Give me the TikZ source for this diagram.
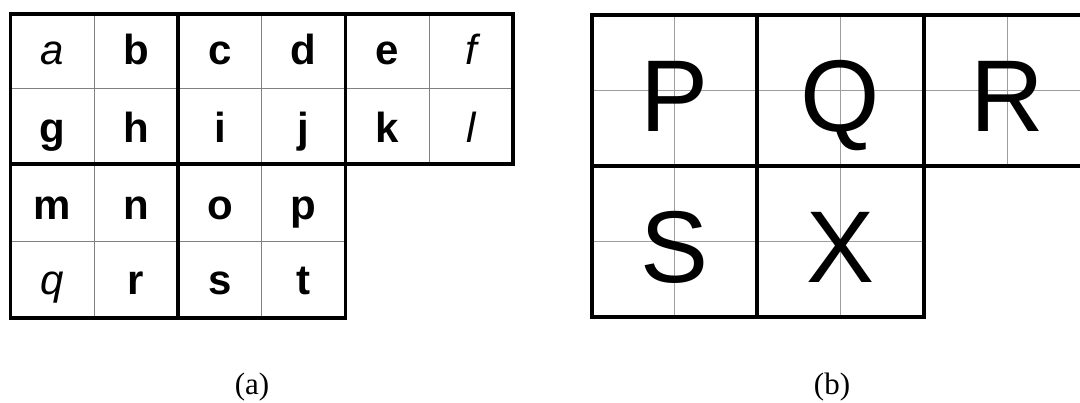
\documentclass[tikz,border=0pt]{standalone}
\usepackage{fontspec}
\setmainfont{Liberation Serif}
\newfontfamily\arialf{Liberation Sans}
\begin{document}
\begin{tikzpicture}[x=1pt,y=-1pt,
  thickl/.style={line width=3.9pt,black,line join=miter},
  thinla/.style={line width=1pt,black!50},
  thinlb/.style={line width=1pt,black!38},
  smallletter/.style={inner sep=0pt,anchor=base,font=\arialf\fontsize{42}{44}\selectfont\bfseries},
  bigletter/.style={inner sep=0pt,anchor=base,font=\arialf\fontsize{102}{104}\selectfont},
  caption/.style={inner sep=0pt,anchor=base,font=\fontsize{31}{33}\selectfont}]
\useasboundingbox (0,0) rectangle (1080,403);
% ---------- grid (a) ----------
\draw[thinla] (94.25,14) -- (94.25,318);
\draw[thinla] (261.75,14) -- (261.75,318);
\draw[thinla] (429.25,14) -- (429.25,164);
\draw[thinla] (10.5,89) -- (513,89);
\draw[thinla] (10.5,242) -- (345.5,242);
\draw[thickl] (10.5,14) -- (513,14) -- (513,164) -- (345.5,164) -- (345.5,318) -- (10.5,318) -- cycle;
\draw[thickl] (178,14) -- (178,318);
\draw[thickl] (345.5,14) -- (345.5,164);
\draw[thickl] (10.5,164) -- (345.5,164);
\foreach \n/\x/\y/\t in {
  la/52.25/65/{\mdseries\itshape a}, lb/136.1/65/b, lc/220/65/c, ld/303.6/65/d, le/387.4/65/e, lf/471.1/65/{\mdseries\itshape f},
  lg/52.25/143/g, lh/136.1/143/h, li/220/143/i, lj/303.6/143/j, lk/387.4/143/k, ll/471.1/143/{\mdseries\itshape l},
  lm/52.25/220/m, ln/136.1/220/n, lo/220/220/o, lp/303.6/220/p,
  lq/52.25/295/{\mdseries\itshape q}, lr/136.1/295/r, ls/220/295/s, lt/303.6/295/t}
  \node[smallletter] (\n) at (\x,\y) {\t};
% ---------- grid (b) ----------
\draw[thinlb] (674.5,15) -- (674.5,317);
\draw[thinlb] (840.5,15) -- (840.5,317);
\draw[thinlb] (1007,15) -- (1007,166);
\draw[thinlb] (592,90.5) -- (1080,90.5);
\draw[thinlb] (592,242) -- (924,242);
\draw[thickl] (1080,15) -| (592,317) -| (924,166) -- (1080,166);
\draw[thickl] (757,15) -- (757,317);
\draw[thickl] (924,15) -- (924,166);
\draw[thickl] (592,166) -- (924,166);
\node[bigletter] (bP) at (674.5,131.5) {P};
\node[bigletter] (bQ) at (840.5,131.5) {Q};
\node[bigletter] (bR) at (1007,131.5) {R};
\node[bigletter] (bS) at (674.5,282.5) {S};
\node[bigletter] (bX) at (840.5,282.5) {X};
% ---------- captions ----------
\node[caption] (capa) at (252,395) {(a)};
\node[caption] (capb) at (832,395) {(b)};
\end{tikzpicture}
\end{document}
